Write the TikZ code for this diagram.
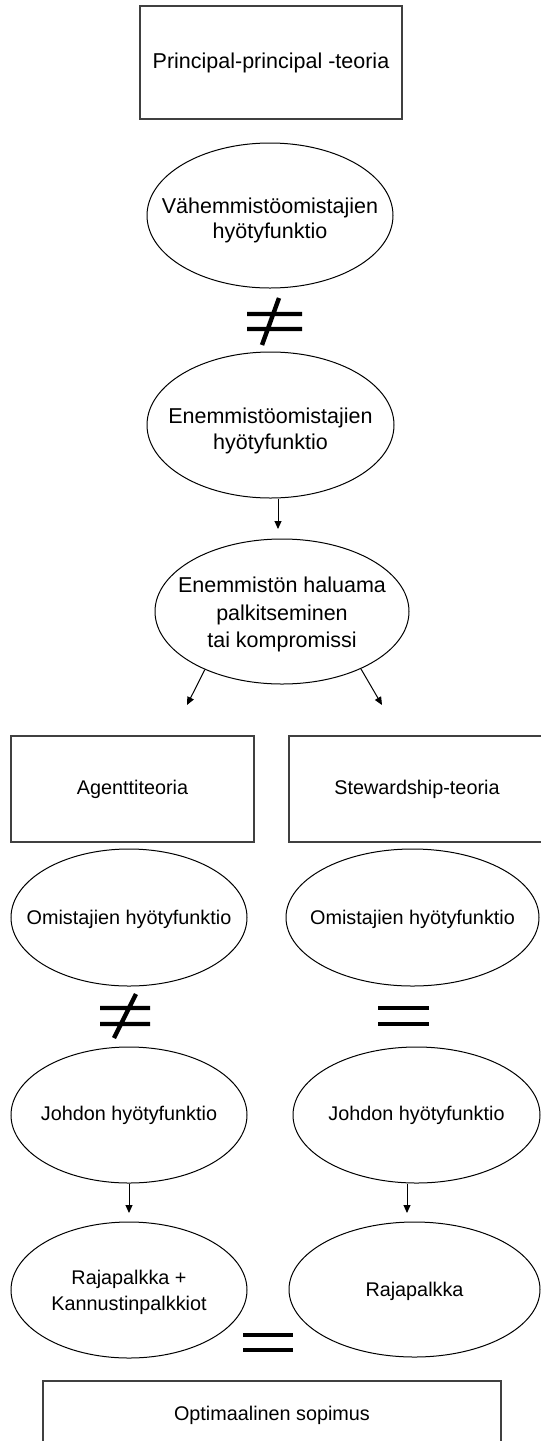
\documentclass[tikz,border=0pt]{standalone}
\usepackage{fontspec}
\setmainfont{Liberation Sans}
\usetikzlibrary{shapes.geometric,arrows.meta,calc}
\newcommand{\bigtxt}{\fontsize{10.75pt}{12.8pt}\selectfont}
\newcommand{\widetxt}{\fontsize{10.75pt}{13.75pt}\selectfont}
\newcommand{\smalltxt}{\fontsize{9.9pt}{13pt}\selectfont}
\begin{document}
\begin{tikzpicture}[x=0.5pt,y=-0.5pt,
  box/.style={draw=black!75, line width=0.6pt, rectangle, inner sep=0pt},
  ell/.style={draw=black, line width=0.5pt, ellipse, inner sep=0pt},
  txt/.style={align=center, inner sep=0pt},
  sign/.style={draw=black, line width=2.2pt},
  arr/.style={draw=black, line width=0.5pt, -{Triangle[width=3.5pt,length=4pt]}}]
\useasboundingbox (0,0) rectangle (541,1441);
\clip (0,0) rectangle (541,1441);

% upper column
\node[box, minimum width=131pt, minimum height=56.5pt, font=\bigtxt] (ppt) at (271,62.5) {Principal-principal -teoria};

\node[ell, minimum width=123pt, minimum height=72.5pt] (vah) at (270,215.5) {};
\node[txt, font=\bigtxt] (vaht) at (270,220.5) {Vähemmistöomistajien\\hyötyfunktio};

\draw[sign] (247,314) -- (302,314) (247,329) -- (302,329) (279,298) -- (262,345);

\node[ell, minimum width=123.5pt, minimum height=73pt] (enm) at (270.5,425) {};
\node[txt, font=\bigtxt] (enmt) at (270.5,431) {Enemmistöomistajien\\hyötyfunktio};

\coordinate (a1) at (278,529);
\draw[arr] (enm.south -| a1) -- (a1);

\node[ell, minimum width=127pt, minimum height=72.5pt] (hal) at (282,611.5) {};
\node[txt, font=\widetxt] (halt) at (282,614.5) {Enemmistön haluama\\palkitseminen\\tai kompromissi};

\coordinate (d1) at (187,705);
\coordinate (d2) at (382,705);
\draw[arr] (hal.217) -- (d1);
\draw[arr] (hal.324) -- (d2);

% left column: agency theory
\node[box, minimum width=121.5pt, minimum height=53pt, font=\smalltxt] (agt) at (132.5,789) {Agenttiteoria};

\node[ell, minimum width=118pt, minimum height=68.5pt] (omL) at (129,917.5) {};
\node[txt, font=\smalltxt] (omLt) at (129,919) {Omistajien hyötyfunktio};

\draw[sign] (100,1008) -- (150,1008) (100,1024) -- (150,1024) (136,994) -- (114,1038);

\node[ell, minimum width=118pt, minimum height=68pt] (joL) at (129,1115) {};
\node[txt, font=\smalltxt] (joLt) at (129,1115) {Johdon hyötyfunktio};

\coordinate (a2) at (129,1213);
\draw[arr] (joL.south -| a2) -- (a2);

\node[ell, minimum width=118pt, minimum height=68pt] (raL) at (129,1290) {};
\node[txt, font=\smalltxt] (raLt) at (129,1292) {Rajapalkka +\\Kannustinpalkkiot};

% right column: stewardship theory
\node[box, minimum width=128pt, minimum height=53pt, font=\smalltxt] (stw) at (417,789) {Stewardship-teoria};

\node[ell, minimum width=126.5pt, minimum height=68.5pt] (omR) at (412.5,917.5) {};
\node[txt, font=\smalltxt] (omRt) at (412.5,919) {Omistajien hyötyfunktio};

\draw[sign] (378,1008) -- (429,1008) (378,1024) -- (429,1024);

\node[ell, minimum width=123.5pt, minimum height=68pt] (joR) at (416.5,1115) {};
\node[txt, font=\smalltxt] (joRt) at (416.5,1115) {Johdon hyötyfunktio};

\coordinate (a3) at (407,1213);
\draw[arr] (joR.south -| a3) -- (a3);

\node[ell, minimum width=125.5pt, minimum height=67.5pt] (raR) at (414.5,1289.5) {};
\node[txt, font=\smalltxt] (raRt) at (414.5,1291) {Rajapalkka};

% both lead to the same contract
\draw[sign] (243,1335) -- (293,1335) (243,1350) -- (293,1350);

\node[box, minimum width=229pt, minimum height=34pt, font=\smalltxt] (opt) at (272,1415) {Optimaalinen sopimus};
\end{tikzpicture}
\end{document}
